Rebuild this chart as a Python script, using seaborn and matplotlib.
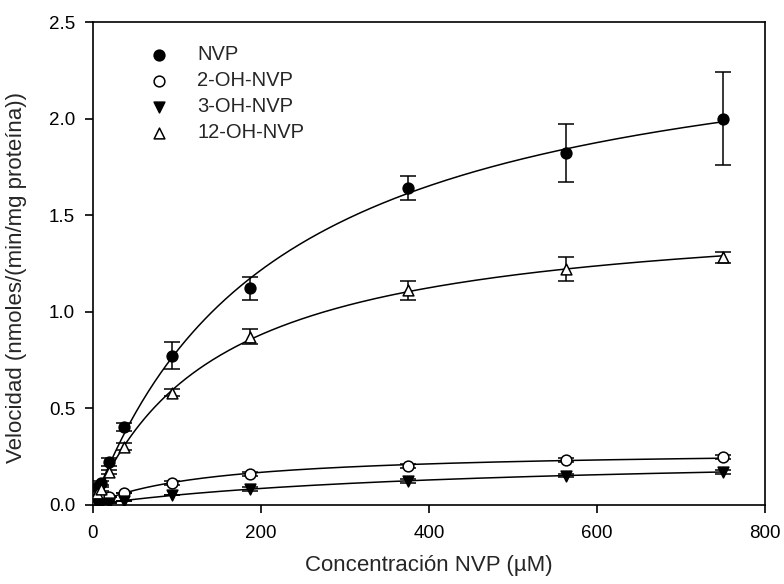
import numpy as np
import matplotlib
matplotlib.use("Agg")
import matplotlib.pyplot as plt
import seaborn as sns
import pandas as pd

# Substrate concentrations (µM)
conc = [4.69, 9.38, 18.75, 37.5, 93.75, 187.5, 375, 562.5, 750]

# Formation rates (nmol/(min/mg protein)) and their errors
nvp = [0.09, 0.11, 0.22, 0.40, 0.77, 1.12, 1.64, 1.82, 2.00]
nvp_err = [0.01, 0.01, 0.02, 0.02, 0.07, 0.06, 0.06, 0.15, 0.24]
oh2 = [0.02, 0.03, 0.04, 0.06, 0.11, 0.16, 0.20, 0.23, 0.245]
oh2_err = [0.0, 0.0, 0.0, 0.0, 0.01, 0.01, 0.01, 0.01, 0.01]
oh3 = [0.005, 0.005, 0.01, 0.02, 0.05, 0.08, 0.12, 0.15, 0.17]
oh3_err = [0.0, 0.0, 0.0, 0.0, 0.0, 0.01, 0.01, 0.01, 0.01]
oh12 = [0.06, 0.08, 0.17, 0.30, 0.58, 0.87, 1.11, 1.22, 1.28]
oh12_err = [0.01, 0.01, 0.01, 0.02, 0.02, 0.04, 0.05, 0.06, 0.03]

labels = ["NVP", "2-OH-NVP", "3-OH-NVP", "12-OH-NVP"]

sns.set_style("ticks")
plt.rcParams["font.family"] = ["Liberation Sans", "DejaVu Sans"]

fig = plt.figure(figsize=(7.84, 5.84), dpi=100)
ax = fig.add_axes([0.1186, 0.1361, 0.8572, 0.8262])


def fit_mm(s, v):
    """Michaelis-Menten least-squares fit: scan Km, solve Vmax linearly."""
    s = np.asarray(s, float)
    v = np.asarray(v, float)
    best = None
    for km in np.linspace(5, 2000, 4000):
        g = s / (km + s)
        vmax = np.dot(g, v) / np.dot(g, g)
        r = np.sum((v - vmax * g) ** 2)
        if best is None or r < best[0]:
            best = (r, vmax, km)
    return best[1], best[2]


series = [
    (nvp, nvp_err, dict(marker="o", facecolor="black", s=85)),
    (oh2, oh2_err, dict(marker="o", facecolor="white", s=85)),
    (oh3, oh3_err, dict(marker="v", facecolor="black", s=85)),
    (oh12, oh12_err, dict(marker="^", facecolor="white", s=85)),
]

xs = np.linspace(0, 750, 400)
for (vals, errs, st), lab in zip(series, labels):
    vmax, km = fit_mm(conc, vals)
    curve = pd.DataFrame({"x": xs, "y": vmax * xs / (km + xs)})
    sns.lineplot(data=curve, x="x", y="y", ax=ax, color="black", lw=1.1,
                 zorder=2)
    ax.errorbar(conc, vals, yerr=errs, fmt="none", ecolor="black",
                elinewidth=1.1, capsize=5.5, capthick=1.1, zorder=3)
    df = pd.DataFrame({"x": conc, "y": vals})
    sns.scatterplot(data=df, x="x", y="y", ax=ax, marker=st["marker"],
                    s=st["s"], color=st["facecolor"], edgecolor="black",
                    linewidth=1.1, zorder=4, label=lab)

ax.set_xlim(0, 800)
ax.set_ylim(0, 2.5)
ax.set_xticks([0, 200, 400, 600, 800])
ax.set_yticks([0.0, 0.5, 1.0, 1.5, 2.0, 2.5])
ax.set_yticklabels(["0.0", "0.5", "1.0", "1.5", "2.0", "2.5"])
ax.tick_params(axis="both", labelsize=13.5, length=5.8, width=1.2,
               direction="out", colors="black", top=False, right=False)
ax.tick_params(axis="y", pad=7)
ax.tick_params(axis="x", pad=9)
for sp in ax.spines.values():
    sp.set_visible(True)
    sp.set_linewidth(1.2)
    sp.set_color("black")

ax.set_xlabel("Concentración NVP (µM)", fontsize=16)
ax.set_ylabel("Velocidad (nmoles/(min/mg proteína))", fontsize=16)
ax.xaxis.set_label_coords(0.5, -0.104)
ax.yaxis.set_label_coords(-0.098, 0.47)

handles, _ = ax.get_legend_handles_labels()
for h in handles:
    h.set_sizes([60])
leg = ax.legend(handles, labels, loc="upper left",
                bbox_to_anchor=(0.0565, 0.969), frameon=False, fontsize=14.5,
                handletextpad=0.9, labelspacing=0.35, borderaxespad=0,
                markerscale=1.0)

fig.savefig("out.png", dpi=100)
